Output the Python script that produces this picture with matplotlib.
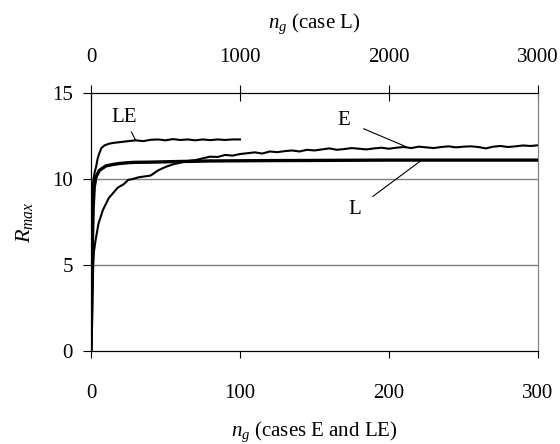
import numpy as np
import matplotlib
matplotlib.use('Agg')
import matplotlib.pyplot as plt

plt.rcParams['font.family'] = ['Liberation Serif', 'DejaVu Serif']
plt.rcParams['mathtext.fontset'] = 'custom'
plt.rcParams['mathtext.it'] = 'Liberation Serif:italic'
plt.rcParams['mathtext.rm'] = 'Liberation Serif'

# caso E (eje inferior)
ng_E = [0, 0.5, 1, 1.5, 2, 3, 5, 8, 12, 15, 18, 22, 25, 28, 32, 36, 40, 45, 50, 55,
        60, 65, 70, 75, 80, 85, 90, 95, 100, 105, 110, 115, 120, 125, 130, 135, 140,
        145, 150, 155, 160, 165, 170, 175, 180, 185, 190, 195, 200, 205, 210, 215,
        220, 225, 230, 235, 240, 245, 250, 255, 260, 265, 270, 275, 280, 285, 290,
        295, 300]
R_E = [0, 0.5, 3.0, 5.0, 5.8, 6.4, 7.4, 8.2, 8.9, 9.2, 9.5, 9.7, 9.95, 10.0, 10.1,
       10.15, 10.2, 10.5, 10.7, 10.85, 10.95, 11.05, 11.1, 11.2, 11.3, 11.28, 11.4,
       11.36, 11.45, 11.5, 11.55, 11.48, 11.6, 11.56, 11.62, 11.66, 11.6, 11.7, 11.66,
       11.72, 11.78, 11.7, 11.74, 11.8, 11.76, 11.72, 11.78, 11.82, 11.76, 11.82,
       11.86, 11.8, 11.88, 11.84, 11.8, 11.86, 11.9, 11.84, 11.88, 11.9, 11.86, 11.78,
       11.88, 11.92, 11.86, 11.9, 11.95, 11.92, 11.96]

# caso LE (eje inferior)
ng_LE = [0, 0.3, 0.7, 1.2, 1.6, 2.5, 3.4, 4.5, 5.6, 7, 9, 12, 15, 20, 25, 30, 35, 40,
         45, 50, 55, 60, 65, 70, 75, 80, 85, 90, 95, 100]
R_LE = [0, 4.0, 8.4, 9.5, 9.95, 10.4, 10.7, 11.2, 11.5, 11.8, 11.95, 12.05, 12.1,
        12.15, 12.2, 12.25, 12.2, 12.28, 12.3, 12.25, 12.32, 12.27, 12.3, 12.25,
        12.3, 12.26, 12.3, 12.27, 12.3, 12.3]

# caso L (eje superior)
ng_L = [0, 5, 10, 15, 22, 34, 56, 100, 150, 190, 250, 300, 400, 500, 600, 700, 800,
        1000, 1200, 1500, 2000, 2500, 3000]
R_L = [0, 3.0, 6.5, 8.4, 9.55, 10.13, 10.5, 10.76, 10.85, 10.9, 10.95, 10.97, 10.98,
       11.0, 11.02, 11.03, 11.05, 11.06, 11.07, 11.08, 11.1, 11.1, 11.1]

fs = 15

fig = plt.figure(figsize=(5.6, 4.44), dpi=100)
ax = fig.add_axes([0.1625, 0.2095, 0.798, 0.581])

ax.plot(ng_E, R_E, color='black', lw=1.5)
ax.plot(ng_LE, R_LE, color='black', lw=1.5)
ax.set_xlim(0, 300)
ax.set_ylim(0, 15)
ax.set_xticks([0, 100, 200, 300])
ax.set_yticks([0, 5, 10, 15])
ax.axhline(5, color='#808080', lw=1, zorder=0)
ax.axhline(10, color='#808080', lw=1, zorder=0)
ax.tick_params(axis='x', labelsize=fs, direction='out', length=5, pad=19)
ax.tick_params(axis='y', labelsize=fs, direction='out', length=6, pad=7)
ax.spines['right'].set_color('#808080')
ax.set_xlabel(r'$n_g$ (cases E and LE)', fontsize=fs, labelpad=12)
ax.set_ylabel(r'$R_{max}$', fontsize=fs + 1, labelpad=12)

ax2 = ax.twiny()
ax2.plot(ng_L, R_L, color='black', lw=2.4)
ax2.set_xlim(0, 3000)
ax2.set_xticks([0, 1000, 2000, 3000])
ax2.tick_params(labelsize=fs, direction='inout', length=12, pad=13)
ax2.spines['right'].set_color('#808080')
ax2.set_xlabel(r'$n_g$ (case L)', fontsize=fs, labelpad=14)

# etiquetas
ax.annotate('LE', xy=(30, 12.25), xytext=(22, 13.6), fontsize=fs, ha='center', va='center',
            arrowprops=dict(arrowstyle='-', color='black', lw=0.8, shrinkA=2, shrinkB=0))
ax.annotate('E', xy=(212, 11.86), xytext=(170, 13.4), fontsize=fs, ha='center', va='center',
            arrowprops=dict(arrowstyle='-', color='black', lw=0.8, shrinkA=8, shrinkB=0))
ax.annotate('L', xy=(222, 11.1), xytext=(177, 8.2), fontsize=fs, ha='center', va='center',
            arrowprops=dict(arrowstyle='-', color='black', lw=0.8, shrinkA=8, shrinkB=0))

plt.savefig('out.png', dpi=100)
plt.close()
